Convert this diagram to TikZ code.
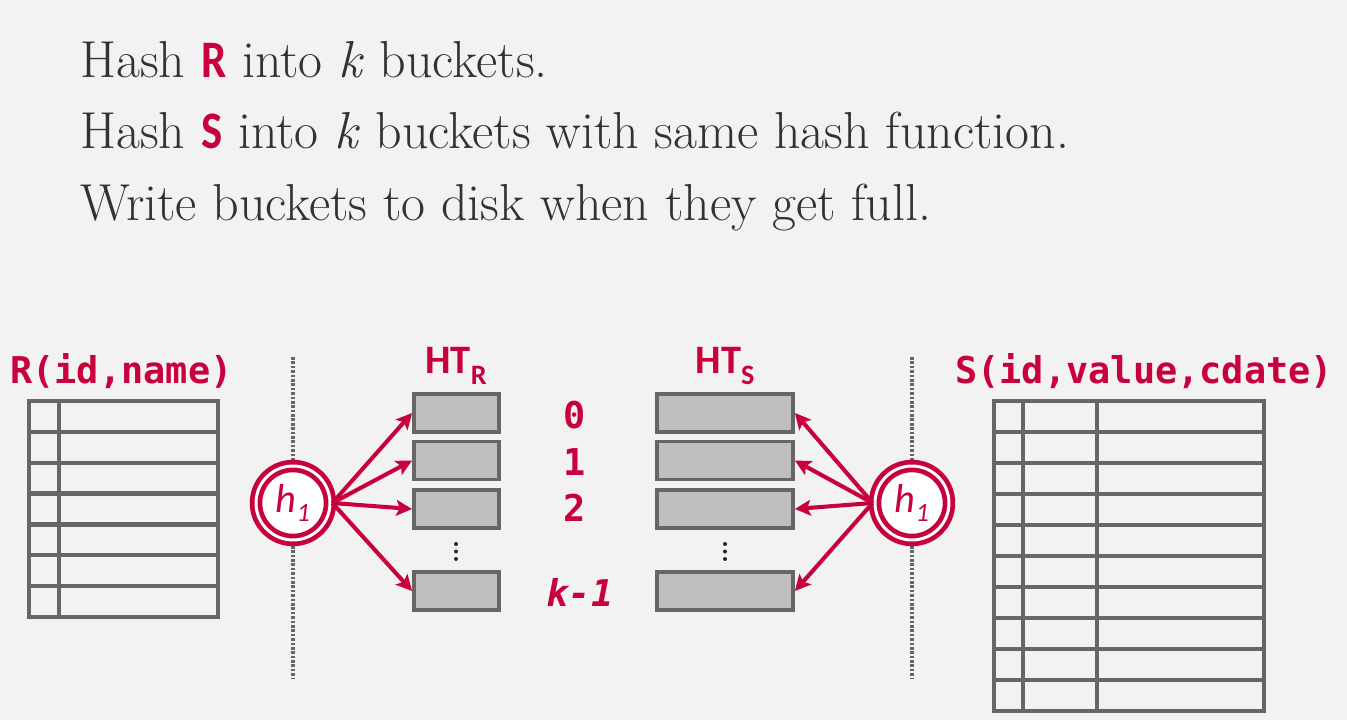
\documentclass[tikz,border=0pt]{standalone}
\usepackage{fontspec}
\usetikzlibrary{arrows.meta}
\newfontfamily\carlito{Carlito}
\newfontfamily\monofont{DejaVu Sans Mono}
\definecolor{dbred}{RGB}{200,0,60}
\definecolor{txtgray}{RGB}{50,50,50}
\definecolor{linegray}{RGB}{102,102,102}
\definecolor{boxfill}{RGB}{191,191,191}
\definecolor{bgcol}{RGB}{242,242,242}
\newcommand\hl[1]{{\carlito\bfseries\fontsize{30pt}{30pt}\selectfont\color{dbred}\scalebox{0.85}[1]{#1}}}
\begin{document}
\begin{tikzpicture}[x=0.02cm,y=-0.02cm,
  tabline/.style={draw=linegray,line width=2.4pt},
  dotline/.style={draw=linegray,line width=1.8pt,dash pattern=on 1.5pt off 1pt},
  bucketR/.style={draw=linegray,fill=boxfill,line width=2.2pt,minimum height=0.76cm,minimum width=1.70cm,inner sep=0pt},
  bucketS/.style={bucketR,minimum width=2.72cm},
  hashnode/.style={circle,draw=dbred,double=white,double distance=1.7pt,line width=2.7pt,fill=white,minimum size=1.48cm,inner sep=0pt,text=dbred,font=\carlito\itshape\fontsize{23pt}{23pt}\selectfont},
  arr/.style={draw=dbred,line width=2.3pt,-{Stealth[length=9pt,width=9pt,inset=2pt]}},
  maintext/.style={anchor=base west,inner sep=0pt,text=txtgray,font=\fontsize{29.6pt}{36pt}\selectfont},
  monolabel/.style={anchor=base west,inner sep=0pt,text=dbred,font=\monofont\bfseries\fontsize{21pt}{21pt}\selectfont},
  htlabel/.style={anchor=base,inner sep=0pt,text=dbred,font=\carlito\bfseries\fontsize{23pt}{23pt}\selectfont},
  digit/.style={inner sep=0pt,text=dbred,font=\monofont\bfseries\fontsize{21pt}{21pt}\selectfont},
  dotmark/.style={fill=black!85}
]
\fill[bgcol] (0,0) rectangle (1347,720);
\useasboundingbox (0,0) rectangle (1347,720);

% heading text
\node[maintext] (t1) at (80,77) {Hash \hl{R} into \textit{k} buckets.};
\node[maintext] (t2) at (80,148) {Hash \hl{S} into \textit{k} buckets with same hash function.};
\node[maintext] (t3) at (80,220) {Write buckets to disk when they get full.};

% relation labels
\node[monolabel] (rl) at (10,383) {R(id,name)};
\node[monolabel] (sl) at (955,383) {S(id,value,cdate)};

% left table
\draw[tabline] (29,401) rectangle (218,617);
\foreach \i in {1,...,6} \draw[tabline] (29,{401+\i*216/7}) -- (218,{401+\i*216/7});
\draw[tabline] (59,401) -- (59,617);

% right table
\draw[tabline] (994,401) rectangle (1264,711);
\foreach \i in {1,...,9} \draw[tabline] (994,{401+\i*31}) -- (1264,{401+\i*31});
\draw[tabline] (1023,401) -- (1023,711);
\draw[tabline] (1097,401) -- (1097,711);

% dotted separators
\draw[dotline] (293,357) -- (293,678);
\draw[dotline] (912,357) -- (912,678);

% hash table titles
\node[htlabel] (htr) at (456,373) {HT\raisebox{-6.5pt}{\fontsize{16pt}{16pt}\selectfont R}};
\node[htlabel] (hts) at (725,373) {HT\raisebox{-6.5pt}{\fontsize{16pt}{16pt}\selectfont S}};

% buckets
\node[bucketR] (r0) at (456.5,413) {};
\node[bucketR] (r1) at (456.5,460.5) {};
\node[bucketR] (r2) at (456.5,509) {};
\node[bucketR] (rk) at (456.5,591) {};
\node[bucketS] (s0) at (725,413) {};
\node[bucketS] (s1) at (725,460.5) {};
\node[bucketS] (s2) at (725,509) {};
\node[bucketS] (sk) at (725,591) {};
\foreach \yy in {544,551.5,559} {
  \fill[dotmark] (456,\yy) circle[radius=2];
  \fill[dotmark] (725,\yy) circle[radius=2];
}

% bucket numbers
\node[digit] (d0) at (575,415) {0};
\node[digit] (d1) at (575,462) {1};
\node[digit] (d2) at (575,508) {2};
\node[digit] (dk) at (580,592) {\itshape k-1};

% hash functions
\node[hashnode] (hL) at (293,503) {h\raisebox{-5pt}{\fontsize{15pt}{15pt}\selectfont 1}};
\node[hashnode] (hR) at (912,503) {h\raisebox{-5pt}{\fontsize{15pt}{15pt}\selectfont 1}};

% arrows
\draw[arr] (hL.east) -- (r0.west);
\draw[arr] (hL.east) -- (r1.west);
\draw[arr] (hL.east) -- (r2.west);
\draw[arr] (hL.east) -- (rk.west);
\draw[arr] (hR.west) -- (s0.east);
\draw[arr] (hR.west) -- (s1.east);
\draw[arr] (hR.west) -- (s2.east);
\draw[arr] (hR.west) -- (sk.east);
\end{tikzpicture}
\end{document}
